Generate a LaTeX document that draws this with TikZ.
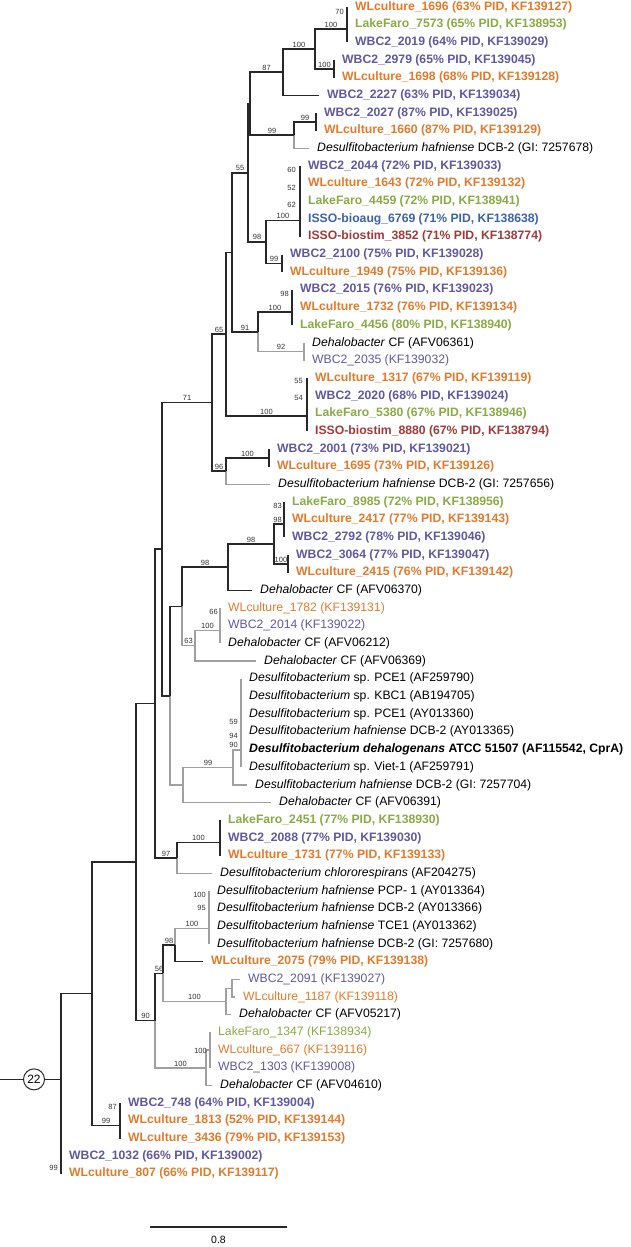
\documentclass[tikz,border=0pt]{standalone}
\usepackage{fontspec}
\setmainfont{Liberation Sans}
\usepackage{tikz}

\definecolor{wlOrange}{RGB}{226,122,43}
\definecolor{lfGreen}{RGB}{137,170,68}
\definecolor{wbPurple}{RGB}{96,88,160}
\definecolor{ibBlue}{RGB}{60,98,168}
\definecolor{isRed}{RGB}{160,58,58}
\definecolor{brGrey}{RGB}{160,160,160}
\definecolor{brBlack}{RGB}{40,40,40}

\begin{document}
\begin{tikzpicture}[x=1pt, y=-1pt,
		blk/.style={draw=brBlack, line width=1.5pt},
		gry/.style={draw=brGrey, line width=1.4pt},
		leaf/.style={anchor=west, inner xsep=8pt, inner ysep=0pt, text height=8.8pt, text depth=2.6pt, font=\fontsize{12.2}{14}\selectfont},
		pid/.style={leaf, font=\fontsize{12.2}{14}\selectfont\bfseries},
		ref/.style={leaf, text=black},
		sup/.style={font=\fontsize{7.5}{8}\selectfont, text=black!80, inner sep=1pt},
		bs/.style={sup, above, pos=0.75}]
			\useasboundingbox (0,0) rectangle (630,1247);
			
			% leaves
			\node[pid, wlOrange] (KF139127) at (347,7) {WLculture\_1696 (63\% PID, KF139127)};
			\node[pid, lfGreen] (KF138953) at (347,24.68) {LakeFaro\_7573 (65\% PID, KF138953)};
			\node[pid, wbPurple] (KF139029) at (347,42.36) {WBC2\_2019 (64\% PID, KF139029)};
			\node[pid, wbPurple] (KF139045) at (334,60.04) {WBC2\_2979 (65\% PID, KF139045)};
			\node[pid, wlOrange] (KF139128) at (334,77.72) {WLculture\_1698 (68\% PID, KF139128)};
			\node[pid, wbPurple] (KF139034) at (319,95.4) {WBC2\_2227 (63\% PID, KF139034)};
			\node[pid, wbPurple] (KF139025) at (316,113.08) {WBC2\_2027 (87\% PID, KF139025)};
			\node[pid, wlOrange] (KF139129) at (316,130.76) {WLculture\_1660 (87\% PID, KF139129)};
			\node[ref] (GI7257678) at (309,148.44) {\textit{Desulfitobacterium hafniense} DCB-2 (GI: 7257678)};
			\node[pid, wbPurple] (KF139033) at (300,166.12) {WBC2\_2044 (72\% PID, KF139033)};
			\node[pid, wlOrange] (KF139132) at (300,183.8) {WLculture\_1643 (72\% PID, KF139132)};
			\node[pid, lfGreen] (KF138941) at (300,201.48) {LakeFaro\_4459 (72\% PID, KF138941)};
			\node[pid, ibBlue] (KF138638) at (300,219.16) {ISSO-bioaug\_6769 (71\% PID, KF138638)};
			\node[pid, isRed] (KF138774) at (300,236.84) {ISSO-biostim\_3852 (71\% PID, KF138774)};
			\node[pid, wbPurple] (KF139028) at (282,254.52) {WBC2\_2100 (75\% PID, KF139028)};
			\node[pid, wlOrange] (KF139136) at (282,272.2) {WLculture\_1949 (75\% PID, KF139136)};
			\node[pid, wbPurple] (KF139023) at (292,289.88) {WBC2\_2015 (76\% PID, KF139023)};
			\node[pid, wlOrange] (KF139134) at (292,307.56) {WLculture\_1732 (76\% PID, KF139134)};
			\node[pid, lfGreen] (KF138940) at (292,325.24) {LakeFaro\_4456 (80\% PID, KF138940)};
			\node[ref] (AFV06361) at (304,342.92) {\textit{Dehalobacter} CF (AFV06361)};
			\node[leaf, wbPurple] (KF139032) at (304,360.6) {WBC2\_2035 (KF139032)};
			\node[pid, wlOrange] (KF139119) at (307,378.28) {WLculture\_1317 (67\% PID, KF139119)};
			\node[pid, wbPurple] (KF139024) at (307,395.96) {WBC2\_2020 (68\% PID, KF139024)};
			\node[pid, lfGreen] (KF138946) at (307,413.64) {LakeFaro\_5380 (67\% PID, KF138946)};
			\node[pid, isRed] (KF138794) at (307,431.32) {ISSO-biostim\_8880 (67\% PID, KF138794)};
			\node[pid, wbPurple] (KF139021) at (269,449) {WBC2\_2001 (73\% PID, KF139021)};
			\node[pid, wlOrange] (KF139126) at (269,466.68) {WLculture\_1695 (73\% PID, KF139126)};
			\node[ref] (GI7257656) at (270,484.36) {\textit{Desulfitobacterium hafniense} DCB-2 (GI: 7257656)};
			\node[pid, lfGreen] (KF138956) at (284,502.04) {LakeFaro\_8985 (72\% PID, KF138956)};
			\node[pid, wlOrange] (KF139143) at (284,519.72) {WLculture\_2417 (77\% PID, KF139143)};
			\node[pid, wbPurple] (KF139046) at (284,537.4) {WBC2\_2792 (78\% PID, KF139046)};
			\node[pid, wbPurple] (KF139047) at (288,555.08) {WBC2\_3064 (77\% PID, KF139047)};
			\node[pid, wlOrange] (KF139142) at (288,572.76) {WLculture\_2415 (76\% PID, KF139142)};
			\node[ref] (AFV06370) at (252,590.44) {\textit{Dehalobacter} CF (AFV06370)};
			\node[leaf, wlOrange] (KF139131) at (220,608.12) {WLculture\_1782 (KF139131)};
			\node[leaf, wbPurple] (KF139022) at (220,625.8) {WBC2\_2014 (KF139022)};
			\node[ref] (AFV06212) at (220,643.48) {\textit{Dehalobacter} CF (AFV06212)};
			\node[ref] (AFV06369) at (256,661.16) {\textit{Dehalobacter} CF (AFV06369)};
			\node[ref] (AF259790) at (241,678.84) {\textit{Desulfitobacterium} sp. PCE1 (AF259790)};
			\node[ref] (AB194705) at (241,696.52) {\textit{Desulfitobacterium} sp. KBC1 (AB194705)};
			\node[ref] (AY013360) at (241,714.2) {\textit{Desulfitobacterium} sp. PCE1 (AY013360)};
			\node[ref] (AY013365) at (241,731.88) {\textit{Desulfitobacterium hafniense} DCB-2 (AY013365)};
			\node[ref, font=\fontsize{12.2}{14}\selectfont\bfseries] (AF115542) at (241,749.56) {\textit{Desulfitobacterium dehalogenans} ATCC 51507 (AF115542, CprA)};
			\node[ref] (AF259791) at (241,767.24) {\textit{Desulfitobacterium} sp. Viet-1 (AF259791)};
			\node[ref] (GI7257704) at (247,784.92) {\textit{Desulfitobacterium hafniense} DCB-2 (GI: 7257704)};
			\node[ref] (AFV06391) at (271,802.6) {\textit{Dehalobacter} CF (AFV06391)};
			\node[pid, lfGreen] (KF138930) at (220,820.28) {LakeFaro\_2451 (77\% PID, KF138930)};
			\node[pid, wbPurple] (KF139030) at (220,837.96) {WBC2\_2088 (77\% PID, KF139030)};
			\node[pid, wlOrange] (KF139133) at (220,855.64) {WLculture\_1731 (77\% PID, KF139133)};
			\node[ref] (AF204275) at (212,873.32) {\textit{Desulfitobacterium chlororespirans} (AF204275)};
			\node[ref] (AY013364) at (209,891) {\textit{Desulfitobacterium hafniense} PCP- 1 (AY013364)};
			\node[ref] (AY013366) at (209,908.68) {\textit{Desulfitobacterium hafniense} DCB-2 (AY013366)};
			\node[ref] (AY013362) at (209,926.36) {\textit{Desulfitobacterium hafniense} TCE1 (AY013362)};
			\node[ref] (GI7257680) at (209,944.04) {\textit{Desulfitobacterium hafniense} DCB-2 (GI: 7257680)};
			\node[pid, wlOrange] (KF139138) at (203,961.72) {WLculture\_2075 (79\% PID, KF139138)};
			\node[leaf, wbPurple] (KF139027) at (240,979.4) {WBC2\_2091 (KF139027)};
			\node[leaf, wlOrange] (KF139118) at (235,997.08) {WLculture\_1187 (KF139118)};
			\node[ref] (AFV05217) at (231,1014.76) {\textit{Dehalobacter} CF (AFV05217)};
			\node[leaf, lfGreen] (KF138934) at (210,1032.44) {LakeFaro\_1347 (KF138934)};
			\node[leaf, wlOrange] (KF139116) at (210,1050.12) {WLculture\_667 (KF139116)};
			\node[leaf, wbPurple] (KF139008) at (210,1067.8) {WBC2\_1303 (KF139008)};
			\node[ref] (AFV04610) at (212,1085.48) {\textit{Dehalobacter} CF (AFV04610)};
			\node[pid, wbPurple] (KF139004) at (120,1103.16) {WBC2\_748 (64\% PID, KF139004)};
			\node[pid, wlOrange] (KF139144) at (120,1120.84) {WLculture\_1813 (52\% PID, KF139144)};
			\node[pid, wlOrange] (KF139153) at (120,1138.52) {WLculture\_3436 (79\% PID, KF139153)};
			\node[pid, wbPurple] (KF139002) at (61,1156.2) {WBC2\_1032 (66\% PID, KF139002)};
			\node[pid, wlOrange] (KF139117) at (61,1173.88) {WLculture\_807 (66\% PID, KF139117)};
			
			% inner nodes
			\coordinate (c1) at (347,29.1);
			\coordinate (c2) at (334,68.88);
			\coordinate (n3) at (315,49);
			\coordinate (n4) at (283,72.2);
			\coordinate (c5) at (316,121.92);
			\coordinate (n6) at (294,135.18);
			\coordinate (n7) at (250,103.69);
			\coordinate (c8) at (300,220.27);
			\coordinate (c9) at (282,263.36);
			\coordinate (n10) at (266,241.8);
			\coordinate (n11) at (248,172.75);
			\coordinate (c12) at (292,311.98);
			\coordinate (c13) at (304,351.76);
			\coordinate (n14) at (258,331.87);
			\coordinate (n15) at (232,252.31);
			\coordinate (c16) at (307,415.85);
			\coordinate (n17) at (226,334.08);
			\coordinate (c18) at (269,457.84);
			\coordinate (n18) at (226,471.1);
			\coordinate (n19) at (212,402.59);
			\coordinate (c20) at (284,524.14);
			\coordinate (c21) at (288,563.92);
			\coordinate (n20) at (274,544.03);
			\coordinate (n21) at (228,567.24);
			\coordinate (c23) at (220,630.22);
			\coordinate (n23) at (195,645.69);
			\coordinate (n22) at (182,606.47);
			\coordinate (c24) at (241,750.11);
			\coordinate (n24) at (233,767.5);
			\coordinate (n25) at (183,785.05);
			\coordinate (n26) at (170,695.76);
			\coordinate (n27) at (162,549.18);
			\coordinate (c28) at (220,842.38);
			\coordinate (n28) at (177,857.85);
			\coordinate (n29) at (155,703.52);
			\coordinate (c30) at (209,928.57);
			\coordinate (n31) at (175,945.15);
			\coordinate (n56) at (232,988.24);
			\coordinate (n57) at (226,1001.5);
			\coordinate (n32) at (163,973.33);
			\coordinate (c59) at (210,1050.12);
			\coordinate (n62) at (206,1067.8);
			\coordinate (n33) at (155,1020.57);
			\coordinate (n34) at (136,862.05);
			\coordinate (c63) at (120,1125.26);
			\coordinate (n35) at (92,993.66);
			\coordinate (root) at (61,1079.35);
			\coordinate (stem) at (0,1079.35);
			
			% bars
			\draw[blk] (KF139127.west) -- (KF139029.west);
			\draw[blk] (KF139045.west) -- (KF139128.west);
			\draw[blk] (KF139025.west) -- (KF139129.west);
			\draw[blk] (KF139033.west) -- (KF138774.west);
			\draw[blk] (KF139028.west) -- (KF139136.west);
			\draw[blk] (KF139023.west) -- (KF138940.west);
			\draw[gry] (AFV06361.west) -- (KF139032.west);
			\draw[blk] (KF139119.west) -- (KF138794.west);
			\draw[blk] (KF139021.west) -- (KF139126.west);
			\draw[blk] (KF138956.west) -- (KF139046.west);
			\draw[blk] (KF139047.west) -- (KF139142.west);
			\draw[gry] (KF139131.west) -- (AFV06212.west);
			\draw[gry] (AF259790.west) -- (AF259791.west);
			\draw[blk] (KF138930.west) -- (KF139133.west);
			\draw[gry] (AY013364.west) -- (GI7257680.west);
			\draw[gry] (KF138934.west) -- (KF139008.west);
			\draw[blk] (KF139004.west) -- (KF139153.west);
			
			% branches
			\draw[blk] (n3) |- (c1) node[bs] {100};
			\draw[blk] (n3) |- (c2) node[bs] {100};
			\draw[blk] (n4) |- (n3) node[bs] {100};
			\draw[blk] (n4) |- (KF139034.west);
			\draw[blk] (n6) |- (c5) node[bs] {99};
			\draw[gry] (n6) |- (GI7257678.west);
			\draw[blk] (n7) |- (n4) node[bs] {87};
			\draw[blk] (n7) |- (n6) node[bs] {99};
			\draw[blk] (n10) |- (c8) node[bs] {100};
			\draw[blk] (n10) |- (c9) node[bs] {99};
			\draw[blk] (n11) |- (n7);
			\draw[blk] (n11) |- (n10) node[bs] {98};
			\draw[blk] (n14) |- (c12) node[bs] {100};
			\draw[gry] (n14) |- (c13) node[bs] {92};
			\draw[blk] (n15) |- (n11) node[bs] {55};
			\draw[blk] (n15) |- (n14) node[bs] {91};
			\draw[blk] (n17) |- (n15);
			\draw[blk] (n17) |- (c16) node[bs] {100};
			\draw[blk] (n18) |- (c18) node[bs] {100};
			\draw[gry] (n18) |- (GI7257656.west);
			\draw[blk] (n19) |- (n17) node[bs] {65};
			\draw[blk] (n19) |- (n18) node[bs] {96};
			\draw[blk] (n20) |- (c20);
			\draw[blk] (n20) |- (c21) node[bs] {100};
			\draw[blk] (n21) |- (n20) node[bs] {98};
			\draw[blk] (n21) |- (AFV06370.west);
			\draw[blk] (n22) |- (n21) node[bs] {98};
			\draw[gry] (n22) |- (n23) node[bs] {63};
			\draw[gry] (n23) |- (c23) node[bs] {100};
			\draw[gry] (n23) |- (AFV06369.west);
			\draw[gry] (n24) |- (c24);
			\draw[gry] (n24) |- (GI7257704.west);
			\draw[gry] (n25) |- (n24) node[bs] {99};
			\draw[gry] (n25) |- (AFV06391.west);
			\draw[blk] (n26) |- (n22);
			\draw[gry] (n26) |- (n25);
			\draw[blk] (n27) |- (n19) node[bs] {71};
			\draw[blk] (n27) |- (n26);
			\draw[blk] (n28) |- (c28) node[bs] {100};
			\draw[gry] (n28) |- (AF204275.west);
			\draw[blk] (n29) |- (n27);
			\draw[blk] (n29) |- (n28) node[bs] {97};
			\draw[gry] (n31) |- (c30) node[bs] {100};
			\draw[blk] (n31) |- (KF139138.west);
			\draw[gry] (n56) |- (KF139027.west);
			\draw[gry] (n56) |- (KF139118.west);
			\draw[gry] (n57) |- (n56);
			\draw[gry] (n57) |- (AFV05217.west);
			\draw[blk] (n32) |- (n31) node[bs] {98};
			\draw[gry] (n32) |- (n57) node[bs] {100};
			\draw[gry] (n62) |- (c59);
			\draw[gry] (n62) |- (AFV04610.west);
			\draw[blk] (n33) |- (n32) node[bs] {56};
			\draw[gry] (n33) |- (n62) node[bs] {100};
			\draw[blk] (n34) |- (n29);
			\draw[blk] (n34) |- (n33) node[bs] {90};
			\draw[blk] (n35) |- (n34);
			\draw[blk] (n35) |- (c63) node[bs] {99};
			\draw[blk] (root) |- (n35);
			\draw[blk] (root) -- (KF139117.west);
			\draw[blk] (stem) -- (root);
			\node[circle, draw=brBlack, line width=1pt, fill=white, minimum size=21pt, inner sep=0pt, font=\fontsize{12}{14}\selectfont] (outgroup) at (34,1079.35) {22};
			
			% support values on zero-length nodes
			\node[sup, anchor=east] (s70) at (345,12) {70};
			\node[sup, anchor=east] (s60) at (297,170) {60};
			\node[sup, anchor=east] (s52) at (297,188) {52};
			\node[sup, anchor=east] (s62) at (297,205) {62};
			\node[sup, anchor=east] (s98a) at (290,294) {98};
			\node[sup, anchor=east] (s55) at (304,381) {55};
			\node[sup, anchor=east] (s54) at (304,398) {54};
			\node[sup, anchor=east] (s83) at (283,506) {83};
			\node[sup, anchor=east] (s98b) at (283,520) {98};
			\node[sup, anchor=east] (s66) at (219,612) {66};
			\node[sup, anchor=east] (s59) at (239,722) {59};
			\node[sup, anchor=east] (s94) at (239,736) {94};
			\node[sup, anchor=east] (s90) at (239,745) {90};
			\node[sup, anchor=east] (s100a) at (207,895) {100};
			\node[sup, anchor=east] (s95) at (207,908) {95};
			\node[sup, anchor=east] (s100b) at (208,1051) {100};
			\node[sup, anchor=east] (s87) at (118,1107) {87};
			\node[sup, anchor=east] (s99) at (59,1168) {99};
			
			% scale
			\coordinate (sbL) at (150,1227);
			\coordinate (sbR) at (287,1227);
			\draw[brBlack, line width=1.8pt] (sbL) -- (sbR);
			\node[font=\fontsize{10.5}{12}\selectfont] (sbLab) at (218.5,1240) {0.8};
			
		\end{tikzpicture}
\end{document}
